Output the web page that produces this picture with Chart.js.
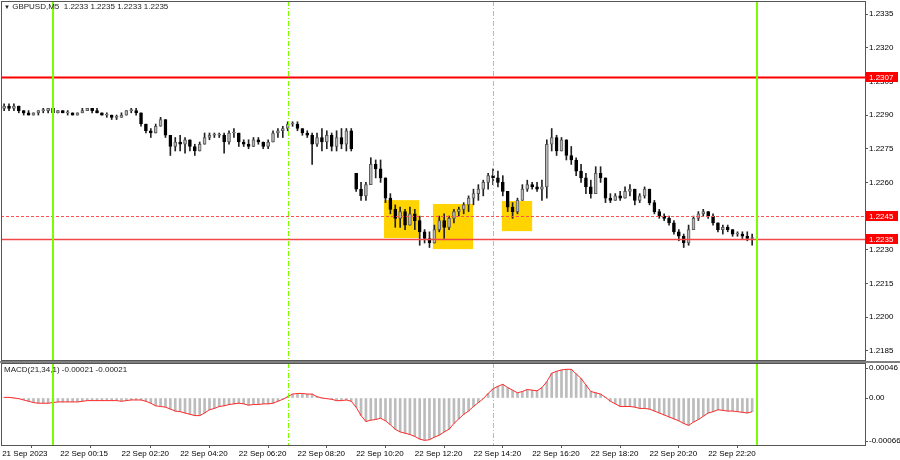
<!DOCTYPE html>
<html>
<head>
<meta charset="utf-8">
<script src="https://cdn.jsdelivr.net/npm/chart.js@4.4.0/dist/chart.umd.min.js"></script>
<style>
  html, body { margin: 0; padding: 0; background: #fff; }
  #wrap { position: relative; width: 900px; height: 460px; overflow: hidden; font-family: "Liberation Sans", Arial, sans-serif; }
  canvas { position: absolute; left: 0; }
  #main { top: 0; }
  #macd { top: 362px; }
  .lbl { position: absolute; font-size: 8px; color: #222; white-space: pre; line-height: 10px; }
</style>
</head>
<body>
<div id="wrap">
  <canvas id="main" width="900" height="362"></canvas>
  <canvas id="macd" width="900" height="98"></canvas>
  <div class="lbl" style="left:4px;top:2px"><span style="font-size:6px">▼</span> GBPUSD,M5  1.2233 1.2235 1.2233 1.2235</div>
  <div class="lbl" style="left:4px;top:365px">MACD(21,34,1) -0.00021 -0.00021</div>
</div>
<script>
// prices are kept in pips above 1.2200, one candle per 10 minutes
const BASE = 1.22;
const START_MIN = -100;   // minutes from 22 Sep 00:00
const STEP_MIN = 10;

const opens = [
  93,94,93,94,92,91,90,91,92,92, 93,91,92,91,91,90,91,92,93,92,
  91,90,90,89,89,90,92,92,91,86, 83,82,85,88,81,76,78,77,79,76,
  74,77,80,81,81,81,78,82,82,78, 77,76,79,78,76,78,82,83,84,86,
  86,84,82,81,77,80,78,81,76,80, 77,83,64,57,54,59,68,66,62,53,
  48,44,47,41,46,43,38,35,33,39, 43,40,44,47,48,50,53,55,57,60,
  63,62,60,56,49,47,52,57,59,58, 57,58,77,80,74,79,72,70,65,62,
  58,55,64,62,53,52,54,53,56,57, 52,54,57,51,47,45,44,42,38,36,
  33,39,44,46,47,45,42,39,40,39, 37,37,36,35
];
const highs = [
  95,95,95,94,92,92,91,92,93,93, 93,92,92,92,91,91,93,93,93,93,
  91,91,90,90,91,92,93,93,91,86, 84,86,89,88,81,80,81,80,79,77,
  78,82,82,82,82,82,83,84,82,79, 79,80,80,78,79,83,84,85,87,87,
  87,84,83,82,82,84,83,82,83,84, 84,84,64,60,60,71,70,70,62,55,
  50,49,48,49,48,45,39,38,41,45, 46,45,48,49,51,54,57,59,61,64,
  66,65,63,56,51,53,59,61,60,60, 61,79,84,81,80,79,76,71,68,64,
  61,67,67,62,55,55,56,58,59,57, 55,58,57,52,48,46,45,43,39,37,
  41,45,47,48,47,46,42,41,41,39, 38,38,38,37
];
const lows = [
  92,92,92,91,90,90,90,90,91,91, 91,91,91,90,90,90,91,92,91,91,
  90,89,88,88,89,90,91,90,85,82, 80,82,85,80,72,74,74,73,74,72,
  74,77,79,80,80,73,77,80,76,76, 75,76,77,75,75,78,80,80,83,85,
  83,81,80,68,76,74,75,74,74,75, 74,74,56,52,52,59,62,60,51,46,
  40,40,39,41,39,32,33,31,33,38, 35,39,42,45,46,47,50,52,54,57,
  59,58,54,47,44,46,52,56,57,56, 52,53,74,72,74,70,68,63,60,55,
  53,55,60,51,51,52,52,53,54,50, 51,53,50,46,44,43,41,37,34,31,
  32,39,43,45,44,41,38,37,38,36, 36,35,34,32
];
const closes = [
  94,93,94,92,91,90,91,92,92,93, 91,92,91,91,90,91,92,93,92,91,
  90,90,89,89,90,92,92,91,86,83, 82,85,88,81,76,78,77,79,76,74,
  77,80,81,81,81,78,82,82,78,77, 76,79,78,76,78,82,83,84,86,86,
  84,82,81,77,80,78,81,76,80,77, 83,75,57,54,59,68,66,62,53,48,
  44,47,41,46,43,38,35,33,39,43, 40,44,47,48,50,53,55,57,60,63,
  62,60,56,49,47,52,57,59,58,57, 58,77,80,74,79,72,70,65,62,58,
  55,64,62,53,52,54,53,56,57,52, 54,57,51,47,45,44,42,38,36,33,
  39,44,46,47,45,42,39,40,39,37, 37,36,35,35
];
// MACD(21,34,1) in units of 0.00001
const macd = [
  1,1,0,-1,-3,-5,-7,-8,-8,-8, -7,-6,-6,-6,-6,-6,-5,-4,-4,-4,
  -4,-4,-4,-4,-5,-4,-3,-3,-3,-5, -8,-12,-13,-14,-17,-20,-21,-23,-25,-27,
  -27,-23,-18,-16,-13,-12,-10,-9,-8,-9, -11,-10,-10,-9,-9,-8,-5,-2,2,6,
  7,7,6,6,2,0,-1,-2,-4,-4, -3,-5,-14,-27,-36,-34,-33,-31,-35,-41,
  -48,-52,-54,-56,-59,-63,-65,-64,-60,-57, -52,-48,-39,-32,-25,-20,-13,-7,-1,7,
  14,18,21,16,12,8,10,13,12,11, 16,25,38,41,43,44,44,37,30,20,
  10,8,6,1,-5,-9,-13,-13,-13,-14, -16,-16,-17,-20,-23,-26,-29,-32,-35,-39,
  -42,-37,-33,-28,-23,-21,-18,-19,-20,-20, -21,-22,-23,-21
];

const PRICE_TICKS = [1.2185, 1.2200, 1.2215, 1.2230, 1.2245, 1.2260, 1.2275, 1.2290, 1.2305, 1.2320, 1.2335];
const MACD_TICKS = [46, 0, -66];
const X_TICKS = [-104, 15, 140, 260, 380, 500, 620, 740, 860, 980, 1100, 1220, 1340];
const X_LABELS = ['21 Sep 2023', '22 Sep 00:15', '22 Sep 02:20', '22 Sep 04:20', '22 Sep 06:20', '22 Sep 08:20',
  '22 Sep 10:20', '22 Sep 12:20', '22 Sep 14:20', '22 Sep 16:20', '22 Sep 18:20', '22 Sep 20:20', '22 Sep 22:20'];

const LEVELS = [1.2307, 1.2245, 1.2235];
const DAY_LINES = [0, 1440];
const SESSION_LINES = [480, 900];
// zones: [from minute, to minute, top price, bottom price]
const zones = [
  [677, 749, 1.22521, 1.22352],
  [777, 859, 1.22504, 1.22303],
  [918, 980, 1.22517, 1.22383]
];

const X_MIN = -106.4, X_MAX = 1660.8;
const Y_MIN = 1.21809, Y_MAX = 1.23408;
const MACD_MIN = -72.1, MACD_MAX = 53.7;

const times = opens.map((_, i) => START_MIN + i * STEP_MIN);
const px = v => BASE + v / 10000;

Chart.defaults.font.family = '"Liberation Sans", Arial, sans-serif';
Chart.defaults.font.size = 8;
Chart.defaults.color = '#000';

function noPad(s) {
  s.paddingTop = 0; s.paddingBottom = 0; s.paddingLeft = 0; s.paddingRight = 0;
}

function drawVLines(chart) {
  const { ctx, chartArea: a, scales: { x } } = chart;
  ctx.save();
  ctx.strokeStyle = '#7cfc00';
  DAY_LINES.forEach(t => {
    const p = Math.round(x.getPixelForValue(t));
    ctx.lineWidth = 2;
    ctx.setLineDash([]);
    ctx.beginPath(); ctx.moveTo(p, a.top); ctx.lineTo(p, a.bottom); ctx.stroke();
  });
  SESSION_LINES.forEach(t => {
    const p = Math.round(x.getPixelForValue(t)) + 0.5;
    ctx.lineWidth = 1;
    ctx.setLineDash([5, 2, 1, 2]);
    ctx.beginPath(); ctx.moveTo(p, a.top); ctx.lineTo(p, a.bottom); ctx.stroke();
  });
  ctx.restore();
}

function drawFrame(chart, bandTop, bandBottom) {
  const { ctx, chartArea: a } = chart;
  ctx.save();
  ctx.fillStyle = '#808080';
  ctx.fillRect(0, bandTop, 900, bandBottom - bandTop);
  ctx.strokeStyle = '#555';
  ctx.lineWidth = 1;
  ctx.setLineDash([]);
  ctx.strokeRect(Math.round(a.left) + 0.5, Math.round(a.top) + 0.5, Math.round(a.right - a.left), Math.round(a.bottom - a.top));
  ctx.restore();
}

const mainOverlay = {
  id: 'mainOverlay',
  beforeDatasetsDraw(chart) {
    const { ctx, scales: { x, y } } = chart;
    ctx.save();
    ctx.fillStyle = '#ffd400';
    zones.forEach(([t0, t1, p0, p1]) => {
      const x0 = x.getPixelForValue(t0), x1 = x.getPixelForValue(t1);
      const y0 = y.getPixelForValue(p0), y1 = y.getPixelForValue(p1);
      ctx.fillRect(x0, y0, x1 - x0, y1 - y0);
    });
    ctx.restore();
  },
  afterDatasetsDraw(chart) {
    const { ctx, chartArea: a, scales: { y } } = chart;
    const styles = [
      { color: '#ff0000', width: 2, dash: [] },
      { color: '#ff5050', width: 1, dash: [3, 2] },
      { color: '#f04848', width: 1.5, dash: [] }
    ];
    ctx.save();
    LEVELS.forEach((p, i) => {
      const yy = Math.round(y.getPixelForValue(p)) + 0.5;
      ctx.strokeStyle = styles[i].color;
      ctx.lineWidth = styles[i].width;
      ctx.setLineDash(styles[i].dash);
      ctx.beginPath(); ctx.moveTo(a.left, yy); ctx.lineTo(a.right, yy); ctx.stroke();
    });
    ctx.restore();
    drawVLines(chart);
  },
  afterDraw(chart) {
    const { ctx, chartArea: a, scales: { y } } = chart;
    drawFrame(chart, Math.round(a.bottom) + 1, 362);
    ctx.save();
    ctx.font = '8px "Liberation Sans", Arial, sans-serif';
    ctx.textBaseline = 'middle';
    LEVELS.forEach(p => {
      const yy = Math.round(y.getPixelForValue(p));
      ctx.fillStyle = '#ff0000';
      ctx.fillRect(a.right + 1, yy - 5, 32, 10);
      ctx.fillStyle = '#fff';
      ctx.fillText(p.toFixed(4), a.right + 4, yy + 0.5);
    });
    ctx.restore();
  }
};

const macdOverlay = {
  id: 'macdOverlay',
  afterDatasetsDraw(chart) { drawVLines(chart); },
  afterDraw(chart) { drawFrame(chart, 0, Math.round(chart.chartArea.top)); }
};

new Chart(document.getElementById('main'), {
  type: 'bar',
  data: {
    datasets: [
      {
        label: 'body',
        order: 0,
        grouped: false,
        data: opens.map((o, i) => ({ x: times[i], y: [px(o), px(closes[i])] })),
        backgroundColor: c => closes[c.dataIndex] >= opens[c.dataIndex] ? '#b8b8b8' : '#000000',
        borderColor: c => closes[c.dataIndex] >= opens[c.dataIndex] ? '#5a5a5a' : '#000000',
        borderWidth: 1,
        borderSkipped: false,
        barThickness: 3,
        minBarLength: 1
      },
      {
        label: 'wick',
        order: 1,
        grouped: false,
        data: lows.map((l, i) => ({ x: times[i], y: [px(l), px(highs[i])] })),
        backgroundColor: '#222',
        barThickness: 1
      }
    ]
  },
  options: {
    responsive: false,
    devicePixelRatio: 1,
    animation: false,
    layout: { padding: { left: 1, top: 1, right: 0, bottom: 2 } },
    plugins: { legend: { display: false }, tooltip: { enabled: false } },
    scales: {
      x: { type: 'linear', min: X_MIN, max: X_MAX, offset: false, display: false },
      y: {
        position: 'right',
        min: Y_MIN,
        max: Y_MAX,
        afterFit(s) { s.width = 35; noPad(s); },
        afterBuildTicks(s) { s.ticks = PRICE_TICKS.map(v => ({ value: v })); },
        ticks: { autoSkip: false, padding: 1, callback: v => v.toFixed(4) },
        grid: { drawOnChartArea: false, tickLength: 3, color: '#555' },
        border: { display: false }
      }
    }
  },
  plugins: [mainOverlay]
});

new Chart(document.getElementById('macd'), {
  type: 'bar',
  data: {
    datasets: [
      {
        type: 'line',
        label: 'signal',
        order: 0,
        data: macd.map((v, i) => ({ x: times[i], y: v })),
        borderColor: '#ff2a2a',
        borderWidth: 1,
        pointRadius: 0,
        tension: 0
      },
      {
        label: 'macd',
        order: 1,
        grouped: false,
        data: macd.map((v, i) => ({ x: times[i], y: v })),
        backgroundColor: '#bcbcbc',
        barThickness: 2
      }
    ]
  },
  options: {
    responsive: false,
    devicePixelRatio: 1,
    animation: false,
    layout: { padding: { left: 1, top: 1, right: 0, bottom: 0 } },
    plugins: { legend: { display: false }, tooltip: { enabled: false } },
    scales: {
      x: {
        type: 'linear',
        min: X_MIN,
        max: X_MAX,
        offset: false,
        afterFit(s) { s.height = 15; noPad(s); },
        afterBuildTicks(s) { s.ticks = X_TICKS.map(v => ({ value: v })); },
        ticks: { autoSkip: false, maxRotation: 0, align: 'start', padding: 1, callback: (v, i) => X_LABELS[i] },
        grid: { drawOnChartArea: false, tickLength: 3, color: '#555' },
        border: { display: false }
      },
      y: {
        position: 'right',
        min: MACD_MIN,
        max: MACD_MAX,
        afterFit(s) { s.width = 35; noPad(s); },
        afterBuildTicks(s) { s.ticks = MACD_TICKS.map(v => ({ value: v })); },
        ticks: { autoSkip: false, padding: 1, callback: v => v === 0 ? '0.00' : (v / 100000).toFixed(5) },
        grid: { drawOnChartArea: false, tickLength: 3, color: '#555' },
        border: { display: false }
      }
    }
  },
  plugins: [macdOverlay]
});
</script>
</body>
</html>
